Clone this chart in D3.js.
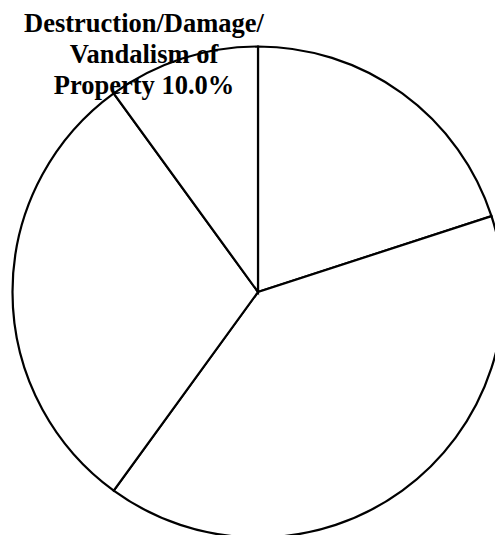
<!DOCTYPE html>
<html><head><meta charset="utf-8">
<script src="https://cdn.jsdelivr.net/npm/d3@7"></script>
<style>html,body{margin:0;padding:0;background:#fff;overflow:hidden}</style>
</head><body>
<svg id="chart" width="495" height="535"></svg>
<script>
const categories = ["Slice A", "Slice B", "Slice C", "Destruction/Damage/Vandalism of Property"];
const values = [20.0, 40.0, 30.0, 10.0];
const labelLines = ["Destruction/Damage/", "Vandalism of", "Property 10.0%"];

const svg = d3.select("#chart");
const cx = 258, cy = 292, r = 245.5;
const g = svg.append("g").attr("transform", `translate(${cx},${cy})`);
const pie = d3.pie().sort(null).value(d => d)(values);
const arc = d3.arc().innerRadius(0).outerRadius(r);
g.selectAll("path").data(pie).join("path")
  .attr("d", arc).attr("fill", "#fff").attr("stroke", "#000")
  .attr("stroke-width", 2.2).attr("stroke-linejoin", "miter");

const t = svg.append("text")
  .attr("font-family", "'Liberation Serif','Times New Roman',serif")
  .attr("font-weight", "bold").attr("font-size", 26.5)
  .attr("text-anchor", "middle").attr("fill", "#000");
labelLines.forEach((s, i) => {
  t.append("tspan").attr("x", 144).attr("y", 31.5 + i * 31).text(s);
});
</script>
</body></html>
